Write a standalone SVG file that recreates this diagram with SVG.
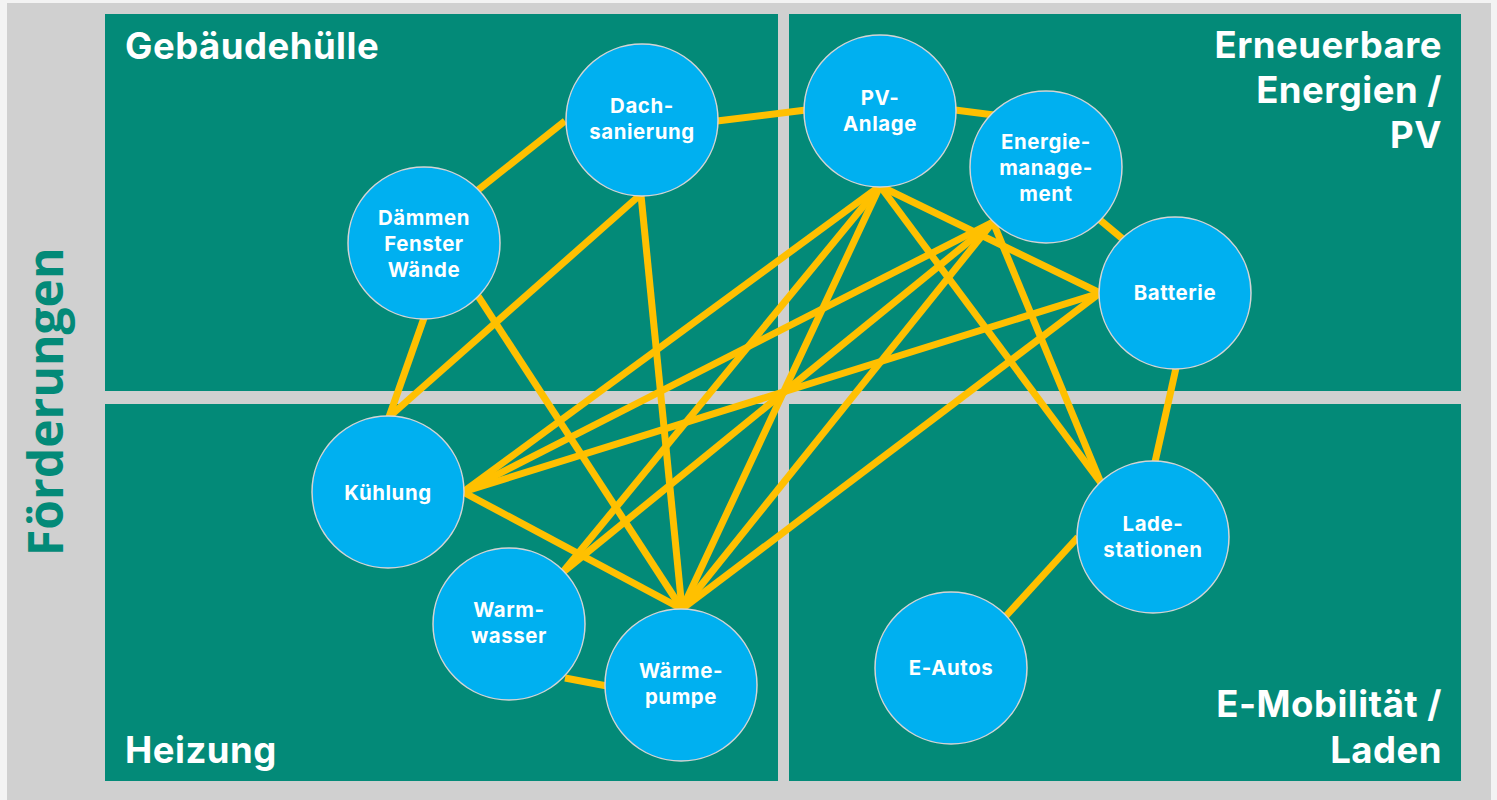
<svg xmlns="http://www.w3.org/2000/svg" width="1497" height="800" viewBox="0 0 1497 800">
  <style>
    .panel { fill: #038a78; }
    .edge { stroke: #ffc000; stroke-width: 7; stroke-linecap: butt; fill: none; }
    .node circle { fill: #00b0f0; stroke: #d4d4d4; stroke-width: 1.5; }
    .node text { font-family: Inter, "Open Sans", "Liberation Sans", sans-serif; font-weight: 700; font-size: 20.4px; letter-spacing: 0.6px; fill: #ffffff; text-anchor: middle; }
    .title { font-family: Inter, "Open Sans", "Liberation Sans", sans-serif; font-weight: 700; font-size: 36.5px; letter-spacing: 0.5px; fill: #ffffff; }
    .side { font-family: "Open Sans", "Liberation Sans", sans-serif; font-weight: 700; font-size: 48px; fill: #038a78; }
  </style>
  <rect x="0" y="0" width="1497" height="800" fill="#f3f3f3"/>
  <rect x="7" y="3" width="1484" height="797" fill="#d0d0d0"/>
  <g id="panels">
    <rect class="panel" x="105" y="14" width="673" height="377"/>
    <rect class="panel" x="789" y="14" width="672" height="377"/>
    <rect class="panel" x="105" y="404" width="673" height="377"/>
    <rect class="panel" x="789" y="404" width="672" height="377"/>
  </g>
  <g id="titles">
    <text class="title" x="125" y="59">Gebäudehülle</text>
    <text class="title" text-anchor="end"><tspan x="1442" y="58">Erneuerbare</tspan><tspan x="1442" y="103">Energien /</tspan><tspan x="1442" y="148">PV</tspan></text>
    <text class="title" x="125" y="763">Heizung</text>
    <text class="title" text-anchor="end"><tspan x="1442" y="717">E-Mobilität /</tspan><tspan x="1442" y="763">Laden</tspan></text>
    <text class="side" transform="translate(63,556) rotate(-90)">Förderungen</text>
  </g>
  <g id="connectors">
    <line class="edge" x1="478" y1="190" x2="565" y2="121"/>
    <line class="edge" x1="717" y1="121" x2="806" y2="110"/>
    <line class="edge" x1="955" y1="110" x2="994" y2="115"/>
    <line class="edge" x1="1100" y1="220" x2="1124" y2="240"/>
    <line class="edge" x1="1176" y1="368" x2="1155" y2="462"/>
    <line class="edge" x1="1078" y1="537" x2="1005" y2="617"/>
    <line class="edge" x1="424" y1="318" x2="389" y2="417"/>
    <line class="edge" x1="640" y1="195" x2="389" y2="417"/>
    <line class="edge" x1="641" y1="195" x2="682" y2="609"/>
    <line class="edge" x1="478" y1="296" x2="682" y2="609"/>
    <line class="edge" x1="463" y1="492" x2="682" y2="609"/>
    <line class="edge" x1="463" y1="492" x2="880" y2="186"/>
    <line class="edge" x1="463" y1="492" x2="993" y2="222"/>
    <line class="edge" x1="463" y1="492" x2="1100" y2="293"/>
    <line class="edge" x1="562" y1="573" x2="880" y2="186"/>
    <line class="edge" x1="562" y1="573" x2="993" y2="222"/>
    <line class="edge" x1="565" y1="678" x2="607" y2="686"/>
    <line class="edge" x1="682" y1="609" x2="880" y2="186"/>
    <line class="edge" x1="682" y1="609" x2="993" y2="222"/>
    <line class="edge" x1="682" y1="609" x2="1100" y2="293"/>
    <line class="edge" x1="880" y1="186" x2="1100" y2="293"/>
    <line class="edge" x1="880" y1="186" x2="1101" y2="483"/>
    <line class="edge" x1="993" y1="222" x2="1101" y2="483"/>
  </g>
  <g id="node-dach" class="node">
    <circle cx="642" cy="120" r="76"/>
    <text><tspan x="642" y="113">Dach-</tspan><tspan x="642" y="139">sanierung</tspan></text>
  </g>
  <g id="node-daemmen" class="node">
    <circle cx="424" cy="243" r="76"/>
    <text><tspan x="424" y="225">Dämmen</tspan><tspan x="424" y="251">Fenster</tspan><tspan x="424" y="277">Wände</tspan></text>
  </g>
  <g id="node-pv" class="node">
    <circle cx="880" cy="111" r="76"/>
    <text><tspan x="880" y="105">PV-</tspan><tspan x="880" y="131">Anlage</tspan></text>
  </g>
  <g id="node-em" class="node">
    <circle cx="1046" cy="167" r="76"/>
    <text><tspan x="1046" y="149">Energie-</tspan><tspan x="1046" y="175">manage-</tspan><tspan x="1046" y="201">ment</tspan></text>
  </g>
  <g id="node-batterie" class="node">
    <circle cx="1175" cy="293" r="76"/>
    <text x="1175" y="300">Batterie</text>
  </g>
  <g id="node-lade" class="node">
    <circle cx="1153" cy="537" r="76"/>
    <text><tspan x="1153" y="531">Lade-</tspan><tspan x="1153" y="557">stationen</tspan></text>
  </g>
  <g id="node-eautos" class="node">
    <circle cx="951" cy="668" r="76"/>
    <text x="951" y="675">E-Autos</text>
  </g>
  <g id="node-kuehlung" class="node">
    <circle cx="388" cy="492" r="76"/>
    <text x="388" y="500">Kühlung</text>
  </g>
  <g id="node-warmwasser" class="node">
    <circle cx="509" cy="624" r="76"/>
    <text><tspan x="509" y="617">Warm-</tspan><tspan x="509" y="643">wasser</tspan></text>
  </g>
  <g id="node-waermepumpe" class="node">
    <circle cx="681" cy="685" r="76"/>
    <text><tspan x="681" y="678">Wärme-</tspan><tspan x="681" y="704">pumpe</tspan></text>
  </g>
</svg>
